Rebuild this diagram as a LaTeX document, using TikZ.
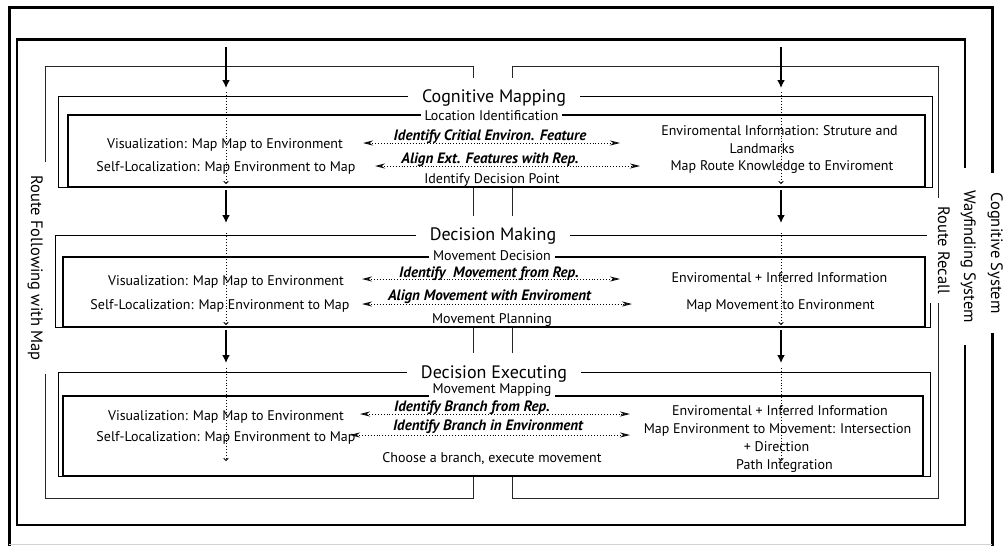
\documentclass[tikz,border=0pt]{standalone}
\usepackage{fontspec}
\setmainfont{PT Sans}
\usetikzlibrary{arrows.meta}
\begin{document}
\begin{tikzpicture}[x=1pt,y=-1pt,
  sysline/.style={line width=3pt},
  wayline/.style={line width=2.4pt},
  routeline/.style={line width=1pt, draw=black!85},
  stagebox/.style={draw, line width=1pt, fill=white},
  phasebox/.style={draw, line width=1.1pt, fill=white},
  stagetitle/.style={fill=white, anchor=base, font=\fontsize{18}{21}\selectfont,
    inner xsep=14pt, inner ysep=0pt, text height=25pt, text depth=10pt},
  phasetitle/.style={fill=white, anchor=base, font=\fontsize{14}{16}\selectfont,
    inner xsep=4pt, inner ysep=0pt, text height=10.5pt, text depth=4pt},
  txt/.style={anchor=base, font=\fontsize{14}{16}\selectfont, inner sep=0pt},
  cue/.style={anchor=base, font=\fontsize{15}{17}\selectfont\bfseries\itshape, inner sep=0pt},
  framelabel/.style={fill=white, rotate=-90, font=\fontsize{16.5}{19}\selectfont,
    inner xsep=0pt, text height=11pt, text depth=3pt},
  flow/.style={line width=1.8pt, -{Latex[length=8pt,width=8pt]}},
  trace/.style={dotted, line width=0.9pt, -{Straight Barb[length=2pt,width=4.5pt]}},
  link/.style={dotted, line width=0.9pt, {Stealth[open,length=10pt,width=5pt]}-{Stealth[open,length=10pt,width=5pt]}},
]
\useasboundingbox (0,0) rectangle (1004,546);

% system frames
\draw[sysline] (9,546) -- (9,7) -- (992,7) -- (992,546);
\draw[gray!35, line width=1pt] (9,544) -- (992,544);
\draw[wayline] (17,39.5) rectangle (965,525);
\draw[routeline] (45,66) rectangle (473,498);
\draw[routeline] (512,66) rectangle (938,498);

% stage boxes
\path[stagebox] (58,96) rectangle (932,187);
\path[stagebox] (55,235) rectangle (930,327);
\path[stagebox] (58,372) rectangle (930,476);
\path[phasebox] (68,115) rectangle (925,187);
\path[phasebox] (63,257) rectangle (925,327);
\path[phasebox] (63,396) rectangle (923,476);

% stage titles
\node[stagetitle] (cmTitle) at (494,102.5) {Cognitive Mapping};
\node[stagetitle] (dmTitle) at (493,240.5) {Decision Making};
\node[stagetitle] (deTitle) at (494,378) {Decision Executing};
\node[phasetitle] (cmPhase) at (491.5,120) {Location Identification};
\node[phasetitle] (dmPhase) at (492,260) {Movement Decision};
\node[phasetitle] (dePhase) at (492,393) {Movement Mapping};

% Cognitive Mapping contents
\node[txt] (cmVis) at (225,148) {Visualization: Map Map to Environment};
\node[txt] (cmSelf) at (226,171) {Self-Localization: Map Environment to Map};
\node[cue] (cmCueA) at (490,140) {Identify Critial Environ. Feature};
\node[cue] (cmCueB) at (490,163) {Align Ext. Features with Rep.};
\node[txt] (cmPoint) at (492,183) {Identify Decision Point};
\node[txt] (cmEnvA) at (779.5,135) {Enviromental Information: Struture and};
\node[txt] (cmEnvB) at (762,153) {Landmarks};
\node[txt] (cmEnvC) at (782,170) {Map Route Knowledge to Enviroment};

% Decision Making contents
\node[txt] (dmVis) at (226,285) {Visualization: Map Map to Environment};
\node[txt] (dmSelf) at (220,309) {Self-Localization: Map Environment to Map};
\node[cue] (dmCueA) at (489,277) {Identify\ \ Movement from Rep.};
\node[cue] (dmCueB) at (489.5,300) {Align Movement with Enviroment};
\node[txt] (dmPlan) at (492,323) {Movement Planning};
\node[txt] (dmEnvA) at (779.5,282) {Enviromental + Inferred Information};
\node[txt] (dmEnvB) at (780.5,309) {Map Movement to Environment};

% Decision Executing contents
\node[txt] (deVis) at (226,420) {Visualization: Map Map to Environment};
\node[txt] (deSelf) at (226,441) {Self-Localization: Map Environment to Map};
\node[cue] (deCueA) at (472,411) {Identify Branch from Rep.};
\node[cue] (deCueB) at (488,430) {Identify Branch in Environment};
\node[txt] (deMove) at (492,462) {Choose a branch, execute movement};
\node[txt] (deEnvA) at (780,415) {Enviromental + Inferred Information};
\node[txt] (deEnvB) at (777.5,433) {Map Environment to Movement: Intersection};
\node[txt] (deEnvC) at (776.5,451) {+ Direction};
\node[txt] (deEnvD) at (784.5,469) {Path Integration};

% two-way links between map and environment
\coordinate (cmLa) at (363,143); \coordinate (cmRa) at (620,143);
\coordinate (cmLb) at (375,166); \coordinate (cmRb) at (640,166);
\coordinate (dmLa) at (362,279); \coordinate (dmRa) at (620,279);
\coordinate (dmLb) at (362,304); \coordinate (dmRb) at (632,304);
\coordinate (deLa) at (360,414); \coordinate (deRa) at (630,414);
\coordinate (deLb) at (350,435); \coordinate (deRb) at (630,435);
\foreach \s in {cm,dm,de} {
  \draw[link] (\s La) -- (\s Ra);
  \draw[link] (\s Lb) -- (\s Rb);
}

% flow down through the stages, one column per route group
\foreach \c/\x in {l/226,r/781} {
  \coordinate (\c0) at (\x,47);  \coordinate (\c1) at (\x,88);
  \coordinate (\c2) at (\x,92);  \coordinate (\c3) at (\x,184);
  \coordinate (\c4) at (\x,190); \coordinate (\c5) at (\x,223);
  \coordinate (\c6) at (\x,233); \coordinate (\c7) at (\x,325);
  \coordinate (\c8) at (\x,330); \coordinate (\c9) at (\x,363);
  \coordinate (\c10) at (\x,368); \coordinate (\c11) at (\x,461);
  \draw[flow] (\c0) -- (\c1);
  \draw[trace] (\c2) -- (\c3);
  \draw[flow] (\c4) -- (\c5);
  \draw[trace] (\c6) -- (\c7);
  \draw[flow] (\c8) -- (\c9);
  \draw[trace] (\c10) -- (\c11);
}

% frame labels
\node[framelabel, minimum width=212pt, inner ysep=4pt] (routeMap) at (35,268) {Route Following with Map};
\node[framelabel, minimum width=105pt, inner ysep=8pt] (routeRecall) at (942,250.5) {Route Recall};
\node[framelabel, minimum width=177pt, inner ysep=2pt] (wayfinding) at (968,256.5) {Wayfinding System};
\node[framelabel, minimum width=160pt, inner ysep=2pt] (cogSystem) at (995,253) {Cognitive System};
\end{tikzpicture}
\end{document}
